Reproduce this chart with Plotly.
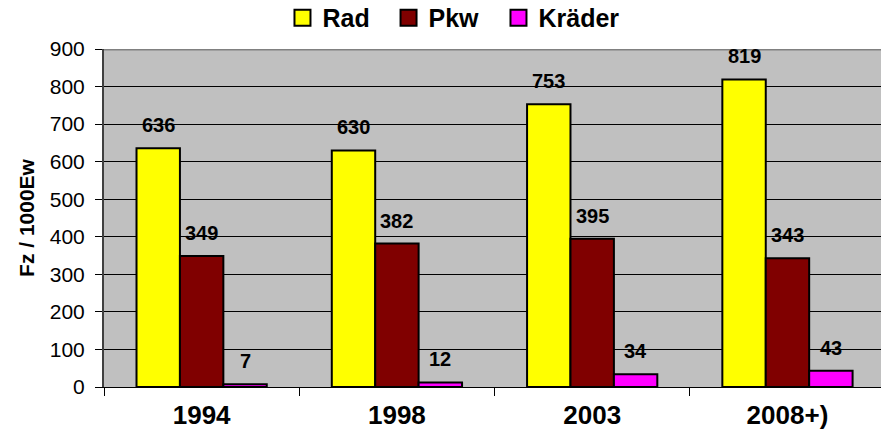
import plotly.graph_objects as go

categories = ["1994", "1998", "2003", "2008+)"]
rad = [636, 630, 753, 819]
pkw = [349, 382, 395, 343]
kraeder = [7, 12, 34, 43]

series_names = ["Rad", "Pkw", "Kräder"]
series_values = [rad, pkw, kraeder]
colors = ["#FFFF00", "#800000", "#FF00FF"]

y_ticks = [0, 100, 200, 300, 400, 500, 600, 700, 800, 900]

FONT = "Liberation Sans, Arial, sans-serif"
bargap = 0.333
legend_ids = ["legend", "legend2", "legend3"]
legend_x = [0.2297, 0.3662, 0.5077]

fig = go.Figure()
for name, vals, col, lg in zip(series_names, series_values, colors, legend_ids):
    fig.add_trace(go.Bar(
        x=categories, y=vals, name=name, showlegend=False,
        marker=dict(color=col, line=dict(color="black", width=2)),
    ))
    # legend entry with larger square swatch
    fig.add_trace(go.Scatter(
        x=[None], y=[None], mode="markers", name=name, legend=lg,
        marker=dict(symbol="square", size=16, color=col,
                    line=dict(color="black", width=2)),
    ))

# data labels above bars
w = (1 - bargap) / len(series_values)
annotations = []
for j, vals in enumerate(series_values):
    for i, v in enumerate(vals):
        annotations.append(dict(
            x=i + (j - 1) * w, y=v, xref="x", yref="y",
            text=str(v), showarrow=False, yanchor="middle", yshift=23,
            font=dict(family=FONT, size=20, color="black", weight="bold"),
        ))

legend_style = dict(
    orientation="h", xanchor="left", y=1.092, yanchor="middle",
    yref="paper", font=dict(family=FONT, size=25, weight="bold"),
    itemsizing="trace", bgcolor="rgba(0,0,0,0)", itemwidth=30,
)

fig.update_layout(
    width=881, height=443,
    margin=dict(l=104, r=0, t=49, b=56, autoexpand=False),
    paper_bgcolor="white", plot_bgcolor="#C0C0C0",
    barmode="group", bargap=bargap, bargroupgap=0,
    font=dict(family=FONT, color="black"),
    annotations=annotations,
    shapes=[dict(type="line", xref="paper", yref="y", x0=0, x1=1, y0=900, y1=900,
                 line=dict(color="#808080", width=3))],
)
for lg, lx in zip(legend_ids, legend_x):
    fig.update_layout({lg: dict(x=lx, **legend_style)})

fig.update_xaxes(
    type="category", range=[-0.5, 3.479], automargin=False,
    showline=True, linecolor="black", linewidth=1,
    ticks="outside", tickson="boundaries", ticklen=8, tickcolor="black",
    tickfont=dict(family=FONT, size=26, weight="bold"),
    ticklabelstandoff=5,
    showgrid=False, zeroline=False,
)
fig.update_yaxes(
    range=[0, 900], tickvals=y_ticks, automargin=False,
    showline=True, linecolor="#404040", linewidth=2,
    ticks="outside", ticklen=7, tickcolor="black",
    tickfont=dict(family=FONT, size=21),
    ticklabelstandoff=6,
    showgrid=True, gridcolor="black", gridwidth=1, zeroline=False,
    title=dict(text="Fz / 1000Ew", font=dict(family=FONT, size=21, weight="bold"),
               standoff=9),
)

fig.write_html("out.html",
               config={"displayModeBar": False},
               post_script="document.body.style.margin='0';document.body.style.overflow='hidden';")
